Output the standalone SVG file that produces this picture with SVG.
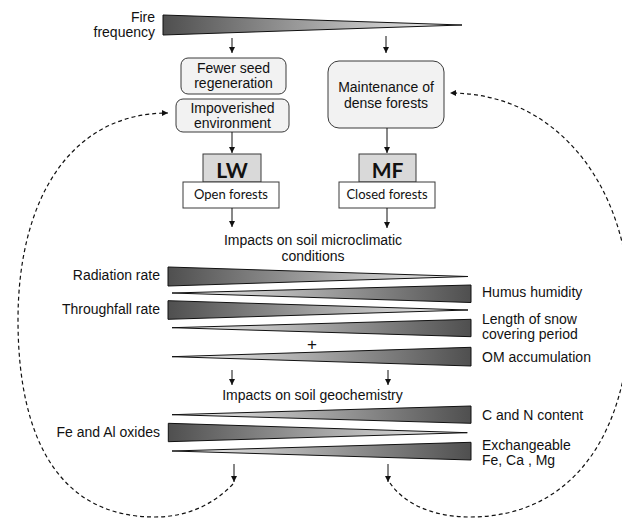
<svg xmlns="http://www.w3.org/2000/svg" width="622" height="519" viewBox="0 0 622 519">
<style>
  .t { font-family: "Liberation Sans", Arial, sans-serif; font-size: 14px; fill: #111; }
  .c { text-anchor: middle; }
  .e { text-anchor: end; }
  .k { font-family: Lato, "Open Sans", sans-serif; font-size: 13px; fill: #111; text-anchor: middle; }
  .b { font-family: Lato, "Open Sans", sans-serif; font-size: 21px; font-weight: bold; fill: #111; text-anchor: middle; }
  .box { fill: #f2f2f2; stroke: #3a3a3a; stroke-width: 1; }
  .gray { fill: #d9d9d9; stroke: #3a3a3a; stroke-width: 1; }
  .white { fill: #ffffff; stroke: #3a3a3a; stroke-width: 1; }
  .wl { fill: url(#gl); stroke: #111; stroke-width: 1; stroke-linejoin: miter; }
  .wr { fill: url(#gr); stroke: #111; stroke-width: 1; stroke-linejoin: miter; }
  .arr { stroke: #111; stroke-width: 1; fill: none; marker-end: url(#ah); }
  .dash { stroke: #111; stroke-width: 1.2; fill: none; stroke-dasharray: 4 3; marker-end: url(#ah); }
</style>
<defs>
  <linearGradient id="gl" x1="0" y1="0" x2="1" y2="0">
    <stop offset="0" stop-color="#4f4f4f"/>
    <stop offset="1" stop-color="#f4f4f4"/>
  </linearGradient>
  <linearGradient id="gr" x1="0" y1="0" x2="1" y2="0">
    <stop offset="0" stop-color="#f4f4f4"/>
    <stop offset="1" stop-color="#4f4f4f"/>
  </linearGradient>
  <marker id="ah" markerUnits="userSpaceOnUse" markerWidth="7" markerHeight="7" refX="6" refY="3" orient="auto">
    <path d="M0,0 L6,3 L0,6 z" fill="#111"/>
  </marker>
</defs>

<g id="fire">
  <polygon class="wl" points="163,15 163,35 462,25"/>
  <text class="t e" x="155" y="22">Fire</text>
  <text class="t e" x="155" y="37">frequency</text>
</g>

<g id="fewer-seed">
  <rect class="box" x="181" y="58" width="105" height="36" rx="7"/>
  <text class="t c" x="233.5" y="73">Fewer seed</text>
  <text class="t c" x="233.5" y="88">regeneration</text>
</g>
<g id="impoverished">
  <rect class="box" x="176" y="99" width="113" height="33" rx="7"/>
  <text class="t c" x="232.5" y="113">Impoverished</text>
  <text class="t c" x="232.5" y="128">environment</text>
</g>
<g id="maintenance">
  <rect class="box" x="328" y="61" width="116" height="67" rx="11"/>
  <text class="t c" x="386" y="92">Maintenance of</text>
  <text class="t c" x="386" y="108">dense forests</text>
</g>

<g id="lw">
  <rect class="gray" x="203" y="154" width="58" height="28"/>
  <text class="b" x="232" y="178">LW</text>
</g>
<g id="open-forests">
  <rect class="white" x="183" y="182" width="96" height="26"/>
  <text class="k" x="231" y="199">Open forests</text>
</g>
<g id="mf">
  <rect class="gray" x="359" y="154" width="57" height="28"/>
  <text class="b" x="387.5" y="178">MF</text>
</g>
<g id="closed-forests">
  <rect class="white" x="339" y="182" width="96" height="26"/>
  <text class="k" x="387" y="199">Closed forests</text>
</g>

<g id="microclimate-title">
  <text class="t c" x="313" y="245">Impacts on soil microclimatic</text>
  <text class="t c" x="313" y="261">conditions</text>
</g>

<g id="radiation">
  <polygon class="wl" points="168,267 168,286 468,276.5"/>
  <text class="t e" x="160" y="280">Radiation rate</text>
</g>
<g id="humus">
  <polygon class="wr" points="172,293 471,285 471,302.5"/>
  <text class="t" x="482" y="297">Humus humidity</text>
</g>
<g id="throughfall">
  <polygon class="wl" points="168,300.7 168,319.3 468,310"/>
  <text class="t e" x="160" y="314">Throughfall rate</text>
</g>
<g id="snow">
  <polygon class="wr" points="172,327.7 471,319.3 471,336.7"/>
  <text class="t" x="482" y="324">Length of snow</text>
  <text class="t" x="482" y="339">covering period</text>
</g>
<g id="plus">
  <text class="t c" x="312" y="350" style="font-size:17px">+</text>
</g>
<g id="om">
  <polygon class="wr" points="172,356.7 471,347.3 471,366"/>
  <text class="t" x="482" y="362">OM accumulation</text>
</g>

<g id="geochem-title">
  <text class="t c" x="312.5" y="400">Impacts on soil geochemistry</text>
</g>

<g id="cn">
  <polygon class="wr" points="172,414.7 471,406 471,423.3"/>
  <text class="t" x="482" y="420">C and N content</text>
</g>
<g id="feal">
  <polygon class="wl" points="168.3,423.3 168.3,441.7 467.3,432.7"/>
  <text class="t e" x="160" y="437">Fe and Al oxides</text>
</g>
<g id="exch">
  <polygon class="wr" points="172,451 471,442.3 471,460"/>
  <text class="t" x="482" y="450">Exchangeable</text>
  <text class="t" x="482" y="465">Fe, Ca , Mg</text>
</g>

<g id="connectors">
  <line class="arr" x1="232" y1="38" x2="232" y2="53"/>
  <line class="arr" x1="386" y1="36" x2="386" y2="53"/>
  <line class="arr" x1="232" y1="132" x2="232" y2="153"/>
  <line class="arr" x1="387" y1="128" x2="387" y2="153"/>
  <line class="arr" x1="232" y1="208" x2="232" y2="227"/>
  <line class="arr" x1="387" y1="208" x2="387" y2="228"/>
  <line class="arr" x1="232" y1="370" x2="232" y2="385"/>
  <line class="arr" x1="388" y1="370" x2="388" y2="385"/>
  <line class="arr" x1="234" y1="464" x2="234" y2="482"/>
  <line class="arr" x1="388" y1="464" x2="388" y2="482"/>
  <path class="dash" d="M233,484 C212,506 185,517 155,517 C60,517 18,440 18,320 C18,200 70,113 168,113"/>
  <path class="dash" d="M390,483 C405,505 435,517 470,517 C575,517 630,430 630,310 C630,190 560,93 450,93"/>
</g>
</svg>
